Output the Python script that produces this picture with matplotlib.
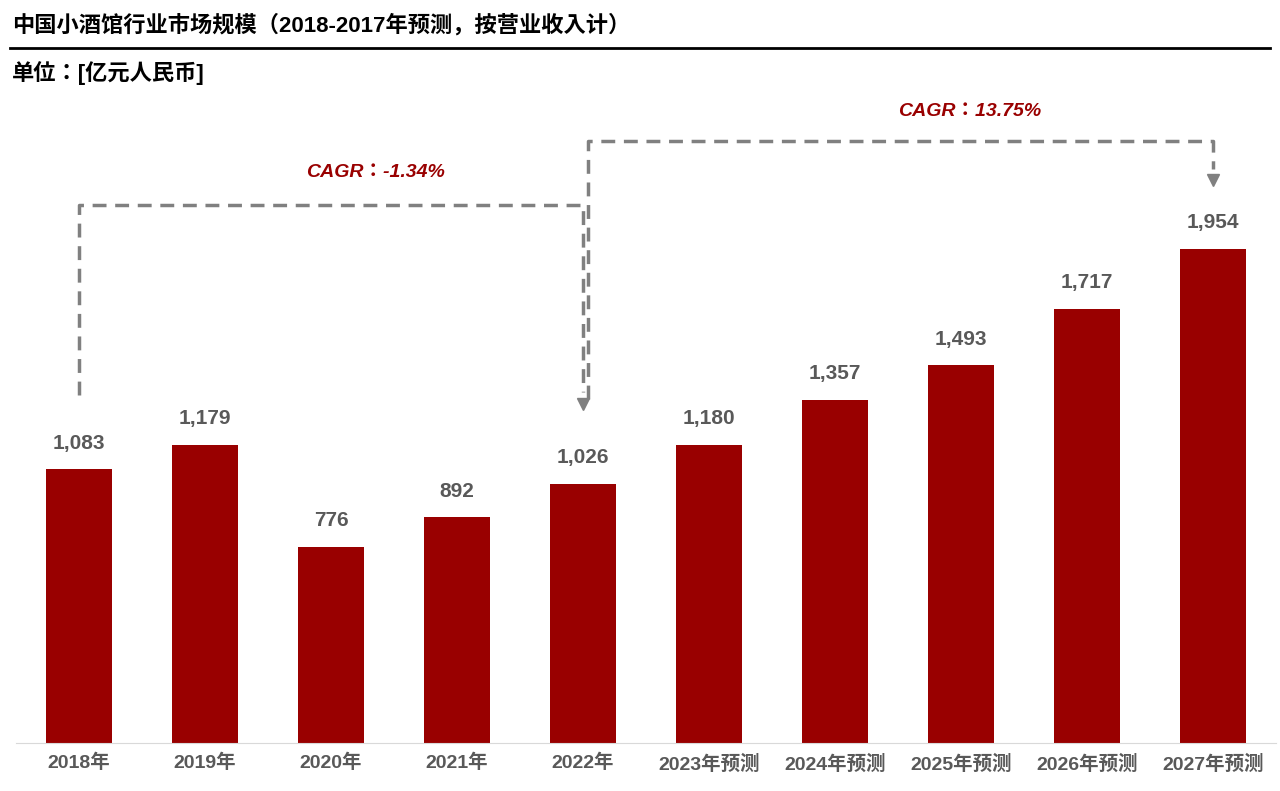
import matplotlib
matplotlib.use("Agg")
import matplotlib.pyplot as plt

CJK = ["Noto Sans CJK JP", "Noto Sans CJK SC", "Noto Sans CJK TC", "Noto Sans CJK KR"]
plt.rcParams["font.family"] = ["Liberation Sans"] + CJK

categories = ["2018年", "2019年", "2020年", "2021年", "2022年",
              "2023年预测", "2024年预测", "2025年预测", "2026年预测", "2027年预测"]
values = [1083, 1179, 776, 892, 1026, 1180, 1357, 1493, 1717, 1954]
cagr_labels = ["CAGR：-1.34%", "CAGR：13.75%"]

fig = plt.figure(figsize=(12.8, 7.91), dpi=100)
ax = fig.add_axes([16/1280, (791-743)/791, 1260/1280, 643/791])
x = range(len(values))
ax.bar(x, values, width=0.52, color="#990000")
ax.set_xlim(-0.5, 9.5)
ax.set_ylim(0, 2543)
for i, v in zip(x, values):
    ax.text(i, v + 65, f"{v:,}", ha="center", va="bottom", fontsize=15,
            fontweight="bold", color="#595959")
ax.set_xticks(list(x))
ax.set_xticklabels(categories, fontsize=14, fontweight="bold", color="#595959")
ax.tick_params(axis="x", length=0, pad=8)
ax.set_yticks([])
for s in ["top", "right", "left"]:
    ax.spines[s].set_visible(False)
ax.spines["bottom"].set_color("#d9d9d9")

dash = dict(color="#808080", lw=2.5, ls=(0, (4, 2.5)))
ax.plot([0, 0, 4.0, 4.0], [1377, 2128, 2128, 1390], **dash)
ax.plot([4.0], [1340], marker="v", color="#808080", ms=8)
ax.text(2.35, 2255, cagr_labels[0], ha="center", va="center", fontsize=14,
        fontweight="bold", style="italic", color="#990000")
ax.plot([4.04, 4.04, 9, 9], [1360, 2380, 2380, 2270], **dash)
ax.plot([9], [2228], marker="v", color="#808080", ms=8)
ax.text(7.07, 2496, cagr_labels[1], ha="center", va="center", fontsize=14,
        fontweight="bold", style="italic", color="#990000")

fig.text(12/1280, 1 - 25/791, "中国小酒馆行业市场规模（2018-2017年预测，按营业收入计）",
         fontsize=16, fontweight="bold", va="center", ha="left")
fig.add_artist(plt.Line2D([10/1280, 1270/1280], [1 - 48/791, 1 - 48/791],
                          color="black", lw=2))
fig.text(12/1280, 1 - 73/791, "单位：[亿元人民币]", fontsize=16, fontweight="bold",
         va="center", ha="left")

fig.savefig("out.png", dpi=100)
